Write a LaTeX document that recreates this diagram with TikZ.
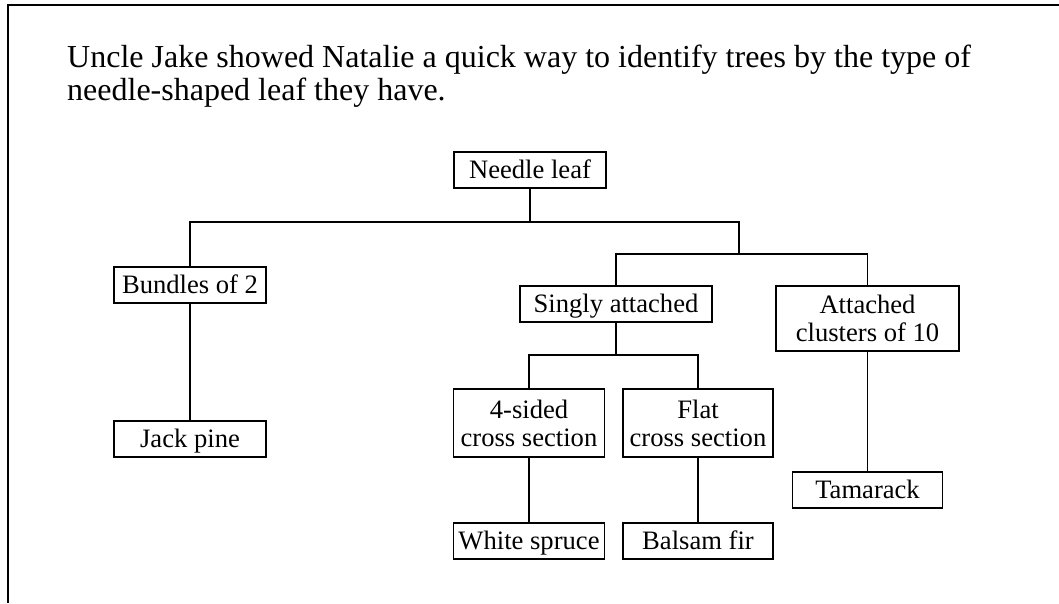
\documentclass[tikz,border=0pt]{standalone}
\usepackage{fontspec}
\setmainfont{Liberation Serif}
\begin{document}
\begin{tikzpicture}[x=1pt,y=-1pt,
  box/.style={draw, line width=1.3pt, inner sep=0pt, minimum height=36pt, align=center,
    font=\fontsize{26.6}{28}\selectfont},
  onebox/.style={box, text height=19pt, text depth=2pt},
  link/.style={line width=1.3pt},
  frame/.style={line width=1.5pt}]
\useasboundingbox (0,0) rectangle (1059,603);
\draw[frame] (8,603) -- (8,5) -- (1059,5);
\node[anchor=north west, inner sep=0pt, align=left, font=\fontsize{32}{32.5}\selectfont] (title) at (67,45)
  {Uncle Jake showed Natalie a quick way to identify trees by the type of\\needle-shaped leaf they have.};
\node[onebox, minimum width=152pt] (needle) at (530,170) {Needle leaf};
\node[onebox, minimum width=152pt] (bundles) at (190,285) {Bundles of 2};
\node[onebox, minimum width=152pt] (jack) at (190,439) {Jack pine};
\node[onebox, minimum width=192pt] (singly) at (616,304) {Singly attached};
\node[box, minimum width=183pt, minimum height=65pt] (attached) at (867.5,318.5) {Attached\\clusters of 10};
\node[box, minimum width=151pt, minimum height=68pt] (four) at (529,423) {4-sided\\cross section};
\node[box, minimum width=150pt, minimum height=68pt] (flat) at (698,423) {Flat\\cross section};
\node[onebox, minimum width=151pt] (white) at (529,541) {White spruce};
\node[onebox, minimum width=150pt] (balsam) at (698,541) {Balsam fir};
\node[onebox, minimum width=150pt] (tamarack) at (867.5,490) {Tamarack};
\coordinate (j1) at (530,222);
\coordinate (j2) at (739,222);
\coordinate (j3) at (739,254);
\coordinate (j4) at (616,355);
\draw[link] (needle.south) -- (j1);
\draw[link] (bundles.north) |- (j2) -- (j3);
\draw[link] (singly.north) |- (j3) -| (attached.north);
\draw[link] (singly.south) -- (j4);
\draw[link] (four.north) |- (j4) -| (flat.north);
\draw[link] (bundles.south) -- (jack.north);
\draw[link] (four.south) -- (white.north);
\draw[link] (flat.south) -- (balsam.north);
\draw[link] (attached.south) -- (tamarack.north);
\end{tikzpicture}
\end{document}
